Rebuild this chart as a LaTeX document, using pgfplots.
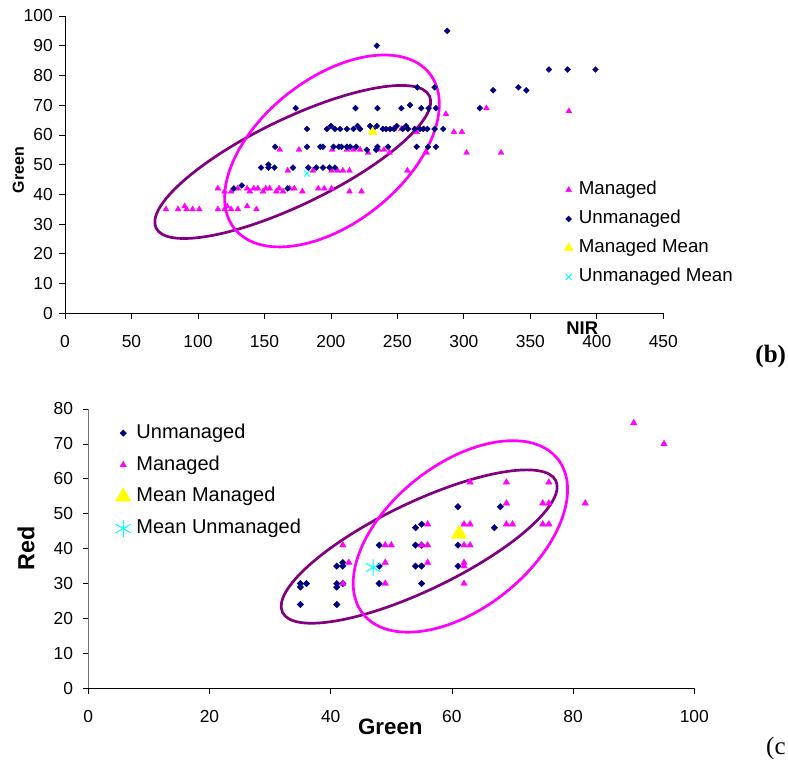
\documentclass[border=0pt]{standalone}
\usepackage{fontspec}
\setmainfont{Liberation Sans}
\newfontfamily\serifface{Liberation Serif}
\usepackage{pgfplots}
\pgfplotsset{compat=1.18}

\definecolor{mgd}{RGB}{255,0,255}
\definecolor{umg}{RGB}{0,0,128}
\definecolor{mmean}{RGB}{255,255,0}
\definecolor{umean}{RGB}{0,255,255}
\definecolor{ellp}{RGB}{128,0,128}

\pgfplotsset{
  excel/.style={
    scale only axis,
    axis lines=left,
    axis line style={-, black, line width=0.8pt},
    tick align=outside,
    major tick length=5.7pt,
    tick style={black, line width=0.8pt},
    /pgf/number format/assume math mode=true,
    ticklabel style={font=\fontsize{17.4}{17.4}\selectfont},
    clip=false,
    legend cell align=left,
    legend image code/.code={\draw[#1] plot coordinates {(0pt,0pt)};},
  },
  mgdmark/.style={only marks, mark=triangle*, mark size=#1,
    mark options={fill=mgd, draw=mgd, line width=0.3pt}},
  umgmark/.style={only marks, mark=diamond*, mark size=#1,
    mark options={fill=umg, draw=umg, line width=0.3pt, xscale=1.33}},
}

% NIR vs Green
\pgfplotstableread{
nir green
76 35
85 35
90 36
91.5 35
96 35
101 35
115 35
120 35
122 36
125 35
130 35
137 36
144 35
115 42
120 41
125 41
130 42
137 42
139 41
142 42
145 42
149 41
151 42
154 42
159 41
161 42
164 41
169 42
172.5 42
178.5 41
190.5 42
195 42
200.5 42
214 41
223 41
167.5 48
186.5 48
200.5 48
205 48
209 48
214 48
257.5 48
161.5 55
176 55
201 55
212 55
217 55
222 55
228 54
236 55
240 55
244 54
272 54
302 54
328 54
247 62
253 62
264.5 61
270 62
292.5 61
298.5 61
286.5 67
317 69
379 68
}\managedB

\pgfplotstableread{
nir green
127 42
133 43
167.5 42
147.5 49
153 50
153 49
157.5 49
171.5 49
183 49
189 49
194 49
199 49
203 49
158 56
182 56
192 56
194 56
202 56
206 56
208 56
212 56
214.5 56
219 56
227 55
234 55
235 56
243 56
264.5 56
273 56
279 56
182 62
197 62
200 63
203 62
207 62
212 62
217 62
220 63
222 62
229.5 63
231.5 62
234.5 63
239 62
241.5 62
244.5 62
247.5 62
249.5 63
254 62
256.5 63
258 62
263 62
267 62
269.5 62
272.5 62
278 62
284.5 62
173.5 69
218.5 69
235 69
253 69
259.5 70
268 69
273.5 69
279 69
312 69
265 76
278 76
322 75
341 76
347 75
364 82
378 82
399 82
234.5 90
287.5 95
}\unmanagedB

% Green vs Red
\pgfplotstableread{
green red
35 30
35 29
36 30
35 24
41 35
42 35
42 36
41 30
41 29
42 30
41 24
48 41
48 35
48 30
54 46
55 47
54 41
55 41
54 35
55 35
55 30
61 52
68 52
67 46
61 41
61 35
}\unmanagedC

\pgfplotstableread{
green red
42 41
43 36
42 30
49 41
50 41
49 36
49 30
55 41
56 41
56 47
56 36
63 59
69 59
76 59
69 53
75 53
76 53
82 53
90 76
95 70
62 47
63 47
69 47
70 47
75 47
76 47
62 41
63 41
62 36
62 35
62 30
}\managedC

\begin{document}
\begin{tikzpicture}
\useasboundingbox (0,0) rectangle (788pt,761pt);

% ---------- (b) NIR / Green ----------
\begin{axis}[excel,
  at={(65pt,447.7pt)}, anchor=south west,
  width=598.3pt, height=297.3pt,
  xmin=0, xmax=450, ymin=0, ymax=100,
  xtick={0,50,...,450}, ytick={0,10,...,100},
  xticklabel style={yshift=-13pt},
  yticklabel style={xshift=-3pt},
  legend style={draw=none, fill=none, at={(0.834,0.445)}, anchor=north west,
    font=\fontsize{18.7}{18.7}\selectfont, inner sep=0pt, row sep=11.5pt,
    nodes={inner sep=0pt, text height=13.5pt, text depth=4pt},
    /tikz/every odd column/.append style={column sep=5.7pt}},
]
\addplot[mgdmark=3.4pt] table[x=nir, y=green] {\managedB};
\addlegendentry{Managed}
\addplot[umgmark=3pt] table[x=nir, y=green] {\unmanagedB};
\addlegendentry{Unmanaged}
\addplot[only marks, mark=triangle*, mark size=5.2pt,
  mark options={fill=mmean, draw=mmean}] coordinates {(231.4,61)};
\addlegendentry{Managed Mean}
\addplot[only marks, mark=x, mark size=4.3pt,
  mark options={draw=umean, line width=0.9pt}] coordinates {(182,47)};
\addlegendentry{Unmanaged Mean}
\draw[ellp, line width=2.7pt, rotate around={25.8:(axis cs:171.3,50.9)}]
  (axis cs:171.3,50.9) ellipse [x radius=151.8pt, y radius=42.9pt];
\draw[mgd, line width=2.7pt, rotate around={38.5:(axis cs:200.8,54.6)}]
  (axis cs:200.8,54.6) ellipse [x radius=124.6pt, y radius=72.2pt];
\end{axis}

% ---------- (c) Green / Red ----------
\begin{axis}[excel,
  at={(88.3pt,72.7pt)}, anchor=south west,
  width=606pt, height=279.3pt,
  xmin=0, xmax=100, ymin=0, ymax=80,
  xtick={0,20,...,100}, ytick={0,10,...,80},
  xticklabel style={yshift=-13pt},
  yticklabel style={xshift=-6pt},
  y axis line style={gray!90!black},
  legend style={draw=none, fill=none, at={(0.0445,0.948)}, anchor=north west,
    font=\fontsize{20}{20}\selectfont, inner sep=0pt, row sep=13pt,
    nodes={inner sep=0pt, text height=14.5pt, text depth=4.3pt},
    /tikz/every odd column/.append style={column sep=5.4pt}},
]
\addplot[umgmark=3.3pt] table[x=green, y=red] {\unmanagedC};
\addlegendentry{Unmanaged}
\addplot[mgdmark=3.8pt] table[x=green, y=red] {\managedC};
\addlegendentry{Managed}
\addplot[only marks, mark=triangle*, mark size=9pt,
  mark options={fill=mmean, draw=mmean}] coordinates {(61.2,44.2)};
\addlegendentry{Mean Managed}
\addplot[only marks, mark=asterisk, mark size=8.5pt,
  mark options={draw=umean, line width=1pt}] coordinates {(47,34.6)};
\addlegendentry{Mean Unmanaged}
\draw[ellp, line width=2.7pt, rotate around={25.7:(axis cs:54.6,40.6)}]
  (axis cs:54.6,40.6) ellipse [x radius=151.7pt, y radius=43.7pt];
\draw[mgd, line width=2.7pt, rotate around={38.5:(axis cs:61.4,43.5)}]
  (axis cs:61.4,43.5) ellipse [x radius=124.4pt, y radius=72pt];
\end{axis}

% axis titles and panel letters
\node[rotate=90, font=\bfseries\fontsize{16}{16}\selectfont] at (18.3pt,591pt) {Green};
\node[font=\bfseries\fontsize{18.4}{18.4}\selectfont] at (582.3pt,432.7pt) {NIR};
\node[rotate=90, font=\bfseries\fontsize{23.3}{23.3}\selectfont] at (26pt,212.3pt) {Red};
\node[font=\bfseries\fontsize{22.3}{22.3}\selectfont] at (390.3pt,34.3pt) {Green};
\node[anchor=base, inner sep=0pt, font=\serifface\bfseries\fontsize{25}{25}\selectfont] at (770.7pt,398.7pt) {(b)};
\node[anchor=base west, inner sep=0pt, font=\serifface\fontsize{25}{25}\selectfont] at (766pt,6pt) {(c};
\end{tikzpicture}
\end{document}
